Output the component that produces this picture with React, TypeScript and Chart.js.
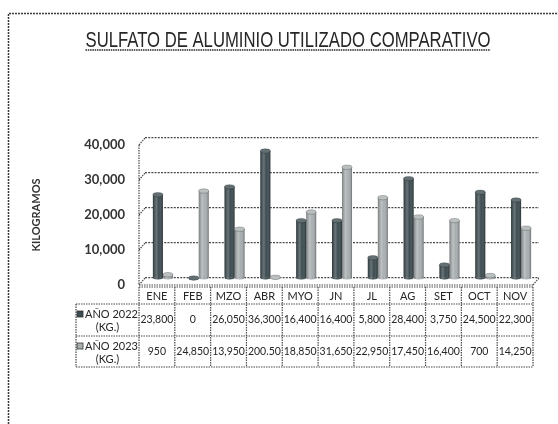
import React, { useEffect, useRef } from 'react';
import { Chart, registerables } from 'chart.js';

Chart.register(...registerables);

const TITLE = 'SULFATO DE ALUMINIO UTILIZADO COMPARATIVO';
const Y_TITLE = 'KILOGRAMOS';
const MONTHS = ['ENE', 'FEB', 'MZO', 'ABR', 'MYO', 'JN', 'JL', 'AG', 'SET', 'OCT', 'NOV'];
const SERIES_NAMES = ['AÑO 2022', 'AÑO 2023'];
const UNIT = '(KG.)';
const Y2022 = [23800, 0, 26050, 36300, 16400, 16400, 5800, 28400, 3750, 24500, 22300];
const Y2023 = [950, 24850, 13950, 200.5, 18850, 31650, 22950, 17450, 16400, 700, 14250];
const Y2022_TEXT = ['23,800', '0', '26,050', '36,300', '16,400', '16,400', '5,800', '28,400', '3,750', '24,500', '22,300'];
const Y2023_TEXT = ['950', '24,850', '13,950', '200.50', '18,850', '31,650', '22,950', '17,450', '16,400', '700', '14,250'];
const Y_MIN = 0;
const Y_MAX = 40000;
const Y_STEP = 10000;

const DARK = '#3d4c51';
const LIGHT = '#a9afb1';
const INK = '#262626';
const LINE = '#4a4a4a';
const FONT = 'Lato, "Open Sans", "DejaVu Sans", sans-serif';

const dashedLine = (ctx: CanvasRenderingContext2D, x1: number, y1: number, x2: number, y2: number) => {
  ctx.beginPath();
  ctx.moveTo(x1, y1);
  ctx.lineTo(x2, y2);
  ctx.stroke();
};

const decor = {
  id: 'decor',
  beforeDraw(chart: any) {
    const { ctx } = chart;
    ctx.save();
    ctx.fillStyle = '#ffffff';
    ctx.fillRect(0, 0, chart.width, chart.height);
    // outer frame
    ctx.strokeStyle = '#3a3a3a';
    ctx.lineWidth = 1.5;
    ctx.setLineDash([2, 1]);
    ctx.beginPath();
    ctx.moveTo(8.5, 430);
    ctx.lineTo(8.5, 13.5);
    ctx.lineTo(562, 13.5);
    ctx.stroke();
    ctx.setLineDash([]);
    // title
    ctx.fillStyle = INK;
    ctx.font = '22px "Liberation Sans Narrow", "Liberation Sans", Arial, sans-serif';
    ctx.textBaseline = 'alphabetic';
    ctx.textAlign = 'center';
    const w = ctx.measureText(TITLE).width;
    const target = 405;
    ctx.save();
    ctx.translate(288, 47);
    ctx.scale(target / w, 1);
    ctx.fillText(TITLE, 0, 0);
    ctx.restore();
    ctx.strokeStyle = INK;
    ctx.lineWidth = 1.6;
    ctx.setLineDash([1.5, 0.8]);
    dashedLine(ctx, 288 - target / 2, 50, 288 + target / 2, 50);
    ctx.setLineDash([]);
    // y title
    ctx.save();
    ctx.translate(36, 215);
    ctx.rotate(-Math.PI / 2);
    ctx.font = `bold 11px ${FONT}`;
    ctx.fillStyle = '#333';
    ctx.textAlign = 'center';
    ctx.textBaseline = 'middle';
    ctx.fillText(Y_TITLE, 0, 0);
    ctx.restore();
    ctx.restore();
  },
  afterDatasetsDraw(chart: any) {
    const { ctx } = chart;
    ctx.save();
    chart.data.datasets.forEach((ds: any, i: number) => {
      const meta = chart.getDatasetMeta(i);
      const color = ds.backgroundColor;
      meta.data.forEach((el: any) => {
        const { x, y, base, width } = el.getProps(['x', 'y', 'base', 'width'], true);
        const l = x - width / 2;
        const h = base - y;
        const rx = width / 2;
        const ry = 2.2;
        // bottom rounded
        ctx.fillStyle = color;
        ctx.beginPath();
        ctx.ellipse(x, base, rx, ry, 0, 0, Math.PI);
        ctx.fill();
        const g = ctx.createLinearGradient(l, 0, l + width, 0);
        g.addColorStop(0, 'rgba(0,0,0,0.28)');
        g.addColorStop(0.35, 'rgba(255,255,255,0.22)');
        g.addColorStop(0.6, 'rgba(255,255,255,0.0)');
        g.addColorStop(1, 'rgba(0,0,0,0.35)');
        ctx.fillStyle = g;
        ctx.fillRect(l, y, width, h);
        ctx.beginPath();
        ctx.ellipse(x, base, rx, ry, 0, 0, Math.PI);
        ctx.fill();
        // top cap
        ctx.fillStyle = color;
        ctx.beginPath();
        ctx.ellipse(x, y, rx, ry, 0, 0, Math.PI * 2);
        ctx.fill();
        ctx.fillStyle = 'rgba(255,255,255,0.2)';
        ctx.fill();
        ctx.strokeStyle = 'rgba(0,0,0,0.35)';
        ctx.lineWidth = 0.6;
        ctx.stroke();
      });
    });
    ctx.restore();
  },
  afterDraw(chart: any) {
    const { ctx, chartArea: a } = chart;
    const xs = chart.scales.x;
    const ys = chart.scales.y;
    const shift = 6;
    const depth = 7;
    ctx.save();
    ctx.strokeStyle = LINE;
    ctx.lineWidth = 1.2;
    ctx.setLineDash([1.5, 1]);
    // side wall front edge and depth ticks
    const frontX = a.left - shift;
    dashedLine(ctx, frontX, ys.getPixelForValue(Y_MAX) + depth, frontX, a.bottom + depth);
    for (let v = Y_MIN; v <= Y_MAX; v += Y_STEP) {
      const yy = ys.getPixelForValue(v);
      dashedLine(ctx, frontX, yy + depth, a.left, yy);
    }
    // floor front edge
    dashedLine(ctx, frontX, a.bottom + depth, a.right - shift, a.bottom + depth);
    dashedLine(ctx, a.right - shift, a.bottom + depth, a.right, a.bottom);

    // data table
    const n = MONTHS.length;
    const cw = (a.right - a.left) / n;
    const t0 = a.bottom + depth + 2;
    const rows = [t0, t0 + 17, t0 + 49, t0 + 80];
    const tl = 76;
    const colL = (i: number) => xs.getPixelForValue(i) - cw / 2 - shift;
    const tr = colL(n - 1) + cw;
    // horizontal lines
    dashedLine(ctx, frontX, rows[0], tr, rows[0]);
    dashedLine(ctx, tl, rows[1], tr, rows[1]);
    dashedLine(ctx, tl, rows[2], tr, rows[2]);
    dashedLine(ctx, tl, rows[3], tr, rows[3]);
    // vertical lines
    dashedLine(ctx, tl, rows[1], tl, rows[3]);
    for (let i = 0; i <= n; i++) {
      const xx = i < n ? colL(i) : tr;
      dashedLine(ctx, xx, rows[0], xx, rows[3]);
    }
    ctx.setLineDash([]);
    ctx.fillStyle = INK;
    ctx.textAlign = 'center';
    ctx.textBaseline = 'middle';
    ctx.font = `11px ${FONT}`;
    MONTHS.forEach((m, i) => ctx.fillText(m, colL(i) + cw / 2, (rows[0] + rows[1]) / 2 + 0.5));
    ctx.font = `10.5px ${FONT}`;
    Y2022_TEXT.forEach((t, i) => ctx.fillText(t, colL(i) + cw / 2, (rows[1] + rows[2]) / 2));
    Y2023_TEXT.forEach((t, i) => ctx.fillText(t, colL(i) + cw / 2, (rows[2] + rows[3]) / 2));
    // row headers
    const hx = (tl + frontX) / 2;
    [DARK, LIGHT].forEach((c, r) => {
      const top = rows[r + 1];
      ctx.font = `11px ${FONT}`;
      const label = SERIES_NAMES[r];
      const lw = ctx.measureText(label).width;
      const sq = 6;
      const startX = hx - (lw + sq + 2) / 2;
      ctx.fillStyle = c;
      ctx.fillRect(startX, top + 7, sq, sq);
      ctx.strokeStyle = '#333';
      ctx.lineWidth = 0.8;
      ctx.strokeRect(startX, top + 7, sq, sq);
      ctx.fillStyle = INK;
      ctx.textAlign = 'left';
      ctx.fillText(label, startX + sq + 2, top + 10.5);
      ctx.textAlign = 'center';
      ctx.fillText(UNIT, hx, top + 23);
    });
    ctx.restore();
  },
};

export default function App() {
  const ref = useRef<HTMLCanvasElement>(null);
  useEffect(() => {
    if (!ref.current) return;
    const chart = new Chart(ref.current, {
      type: 'bar',
      data: {
        labels: MONTHS,
        datasets: [
          { label: `${SERIES_NAMES[0]} ${UNIT}`, data: Y2022, backgroundColor: DARK, borderWidth: 0, categoryPercentage: 0.56, barPercentage: 1.0 },
          { label: `${SERIES_NAMES[1]} ${UNIT}`, data: Y2023, backgroundColor: LIGHT, borderWidth: 0, categoryPercentage: 0.56, barPercentage: 1.0 },
        ],
      },
      options: {
        responsive: false,
        animation: false,
        layout: { padding: { left: 8, right: 19, top: 138, bottom: 146 } },
        plugins: { legend: { display: false }, title: { display: false }, tooltip: { enabled: false } },
        scales: {
          x: { display: false, grid: { display: false } },
          y: {
            min: Y_MIN,
            max: Y_MAX,
            ticks: {
              stepSize: Y_STEP,
              padding: 20,
              labelOffset: 7,
              color: '#333',
              font: { family: FONT, size: 13, weight: 'bold' },
              callback: (v: any) => Number(v).toLocaleString('en-US'),
            },
            grid: { color: LINE, lineWidth: 1.3, drawTicks: false },
            border: { display: false, dash: [2, 1.2] },
            afterFit: (scale: any) => { scale.width = 137; },
          },
        },
      },
      plugins: [decor],
    });
    return () => chart.destroy();
  }, []);
  return (
    <div style={{ position: 'fixed', left: 0, top: 0, width: 558, height: 424, background: '#fff' }}>
      <canvas ref={ref} width={558} height={424} style={{ width: 558, height: 424, display: 'block' }} />
    </div>
  );
}
